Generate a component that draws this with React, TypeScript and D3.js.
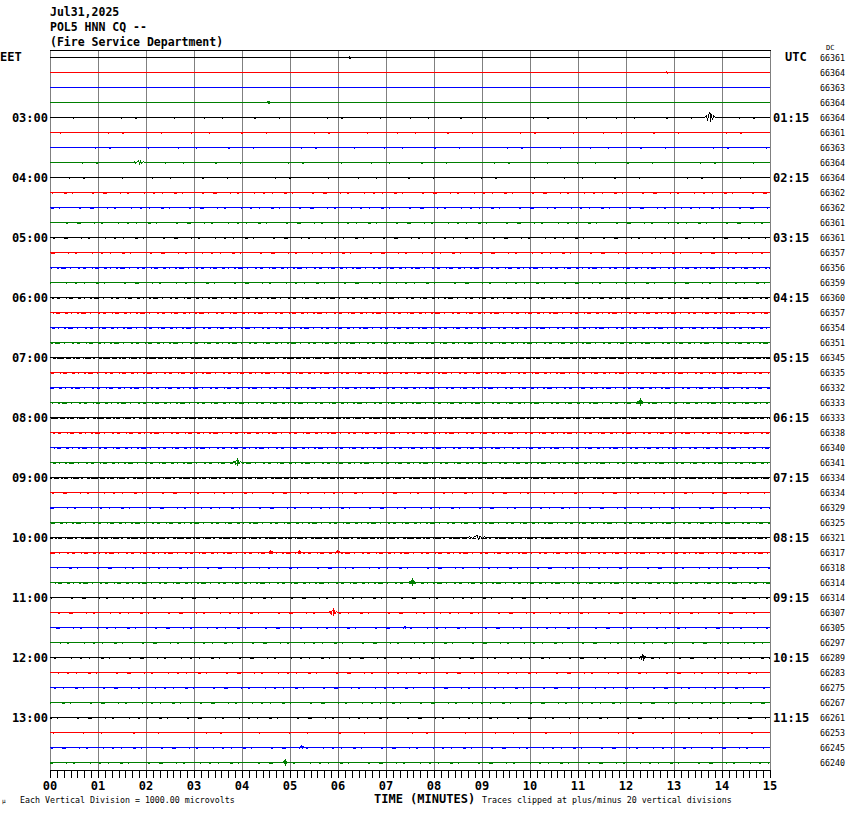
import React from "react";
import * as d3 from "d3";

// ---------- data ----------
const headerLines = ["Jul31,2025", "POL5 HNN CQ --", "(Fire Service Department)"];
const minuteTicks = d3.range(0, 16);
const subTicksPerMinute = 7;
const traceColors = ["#000000", "#ff0000", "#0000ff", "#007f00"];
const eetLabels = ["03:00", "04:00", "05:00", "06:00", "07:00", "08:00", "09:00", "10:00", "11:00", "12:00", "13:00"];
const utcLabels = ["01:15", "02:15", "03:15", "04:15", "05:15", "06:15", "07:15", "08:15", "09:15", "10:15", "11:15"];
const dcValues = [
  66361, 66364, 66363, 66364, 66364, 66361, 66363, 66364,
  66364, 66362, 66362, 66361, 66361, 66357, 66356, 66359,
  66360, 66357, 66354, 66351, 66345, 66335, 66332, 66333,
  66333, 66338, 66340, 66341, 66334, 66334, 66329, 66325,
  66321, 66317, 66318, 66314, 66314, 66307, 66305, 66297,
  66289, 66283, 66275, 66267, 66261, 66253, 66245, 66240,
];
// background noise level per trace (0 = quiet ... 4 = busy)
const noiseLevel = [
  0, 0, 0, 0, 1, 1, 1, 1,
  1, 2, 2, 2, 2, 2, 3, 2,
  3, 3, 3, 3, 4, 3, 3, 3,
  4, 3, 3, 3, 4, 2, 2, 3,
  4, 3, 2, 3, 2, 2, 2, 2,
  2, 2, 2, 2, 2, 1, 2, 2,
];
// notable events: trace index, minute, peak amplitude (microvolts), duration (minutes)
const eventTrace = [4, 7, 3, 1, 23, 27, 32, 33, 33, 33, 35, 37, 38, 40, 46, 47, 0];
const eventMinute = [13.75, 1.85, 4.55, 12.85, 12.3, 3.9, 8.9, 4.6, 5.2, 6.0, 7.55, 5.9, 7.4, 12.35, 5.25, 4.9, 6.25];
const eventAmp = [330, 130, 70, 70, 200, 200, 130, 130, 130, 130, 200, 200, 130, 200, 130, 200, 70];
const eventDur = [0.25, 0.3, 0.15, 0.1, 0.15, 0.2, 0.5, 0.1, 0.1, 0.1, 0.15, 0.2, 0.05, 0.15, 0.1, 0.1, 0.08];

// ---------- layout ----------
const W = 850, H = 814;
const plotL = 50, plotR = 770, plotT = 50, plotB = 770;
const firstTraceY = 57, traceGap = 15;
const nTraces = dcValues.length;

const x = d3.scaleLinear().domain([0, 15]).range([plotL, plotR]);
const yTrace = d3.scaleLinear().domain([0, nTraces - 1]).range([firstTraceY, firstTraceY + (nTraces - 1) * traceGap]);
const amp = d3.scaleLinear().domain([0, 1000]).range([0, traceGap]); // one vertical division

const dashPatterns = [
  null,
  "1 17 1 31 2 23 1 47 1 13 2 37 1 29",
  "2 7 1 11 3 5 1 19 2 9 4 13 1 6 2 15 1 8",
  "3 3 1 5 2 2 5 4 1 7 2 3 3 6 1 2 4 5",
  "5 2 2 1 4 3 1 1 6 2 2 4 3 1 7 2",
];

const lineGen = d3.line<[number, number]>().x((d) => d[0]).y((d) => d[1]);

function tracePath(i: number) {
  const y0 = yTrace(i) + 0.5;
  const pts: [number, number][] = [[x(0), y0]];
  const evs = eventTrace
    .map((t, k) => ({ t, m: eventMinute[k], a: amp(eventAmp[k]), w: eventDur[k] }))
    .filter((e) => e.t === i)
    .sort((p, q) => p.m - q.m);
  const shape: [number, number][] = [
    [-0.5, 0], [-0.3, -0.3], [-0.2, 0.4], [-0.1, -0.6], [0, -1], [0.05, 1], [0.12, -0.7], [0.2, 0.5], [0.3, -0.3], [0.5, 0],
  ];
  evs.forEach((e) => {
    shape.forEach(([f, s]) => pts.push([x(e.m + f * e.w), y0 + s * e.a]));
  });
  pts.push([x(15), y0]);
  return lineGen(pts) || "";
}

const mono = "'DejaVu Sans Mono', 'Liberation Mono', monospace";

export default function App() {
  const subTicks = d3.range(0, 15 * subTicksPerMinute + 1).map((k) => k / subTicksPerMinute);
  return (
    <svg width={W} height={H} style={{ position: "absolute", left: 0, top: 0, background: "#fff" }}>
      <rect x={0} y={0} width={W} height={H} fill="#fff" />
      {/* header */}
      {headerLines.map((t, k) => (
        <text key={k} x={50} y={16 + k * 15} fontFamily={mono} fontSize={11.5} fontWeight="bold" fill="#000">
          {t}
        </text>
      ))}
      {/* vertical grid */}
      {minuteTicks.map((m) => (
        <line key={m} x1={Math.round(x(m)) + 0.5} x2={Math.round(x(m)) + 0.5} y1={plotT} y2={plotB} stroke="#808080" strokeWidth={1} shapeRendering="crispEdges" />
      ))}
      <line x1={plotL} x2={plotR + 1} y1={plotT + 0.5} y2={plotT + 0.5} stroke="#000" shapeRendering="crispEdges" />
      {/* traces */}
      {dcValues.map((_, i) => {
        const c = traceColors[i % 4];
        const dp = dashPatterns[noiseLevel[i]];
        const y0 = yTrace(i) + 0.5;
        return (
          <g key={i}>
            {dp && (
              <line x1={x(0)} x2={x(15)} y1={y0 + 1} y2={y0 + 1} stroke={c} strokeWidth={1} strokeDasharray={dp} shapeRendering="crispEdges" strokeDashoffset={i * 13} />
            )}
            <path d={tracePath(i)} fill="none" stroke={c} strokeWidth={1} shapeRendering="crispEdges" />
          </g>
        );
      })}
      {/* left / right labels */}
      <text x={0} y={61} fontFamily={mono} fontSize={12} fontWeight="bold" fill="#000">EET</text>
      <text x={785} y={61} fontFamily={mono} fontSize={12} fontWeight="bold" fill="#000">UTC</text>
      {eetLabels.map((t, k) => (
        <text key={t} x={48} y={yTrace(4 + k * 4) + 5} textAnchor="end" fontFamily={mono} fontSize={12} fontWeight="bold" fill="#000">
          {t}
        </text>
      ))}
      {utcLabels.map((t, k) => (
        <text key={t} x={773} y={yTrace(4 + k * 4) + 5} fontFamily={mono} fontSize={12} fontWeight="bold" fill="#000">
          {t}
        </text>
      ))}
      <text x={826} y={50} fontFamily={mono} fontSize={7} fill="#000">DC</text>
      {dcValues.map((v, i) => (
        <text key={i} x={820} y={yTrace(i) + 4} fontFamily={mono} fontSize={8.3} fill="#000">
          {v}
        </text>
      ))}
      {/* bottom axis */}
      <line x1={plotL} x2={plotR + 1} y1={plotB + 0.5} y2={plotB + 0.5} stroke="#000" shapeRendering="crispEdges" />
      {subTicks.map((m, k) => (
        <line key={k} x1={Math.round(x(m)) + 0.5} x2={Math.round(x(m)) + 0.5} y1={plotB} y2={plotB + 8} stroke="#000" shapeRendering="crispEdges" />
      ))}
      {minuteTicks.map((m) => (
        <text key={m} x={x(m)} y={790} textAnchor="middle" fontFamily={mono} fontSize={12} fontWeight="bold" fill="#000">
          {d3.format("02d")(m)}
        </text>
      ))}
      <text x={2} y={803} fontFamily={mono} fontSize={6} fill="#000">μ</text>
      <text x={20} y={803} fontFamily={mono} fontSize={8.3} fill="#000">Each Vertical Division = 1000.00 microvolts</text>
      <text x={374} y={803} fontFamily={mono} fontSize={12} fontWeight="bold" fill="#000">TIME (MINUTES)</text>
      <text x={482} y={803} fontFamily={mono} fontSize={8.3} fill="#000">Traces clipped at plus/minus 20 vertical divisions</text>
    </svg>
  );
}
